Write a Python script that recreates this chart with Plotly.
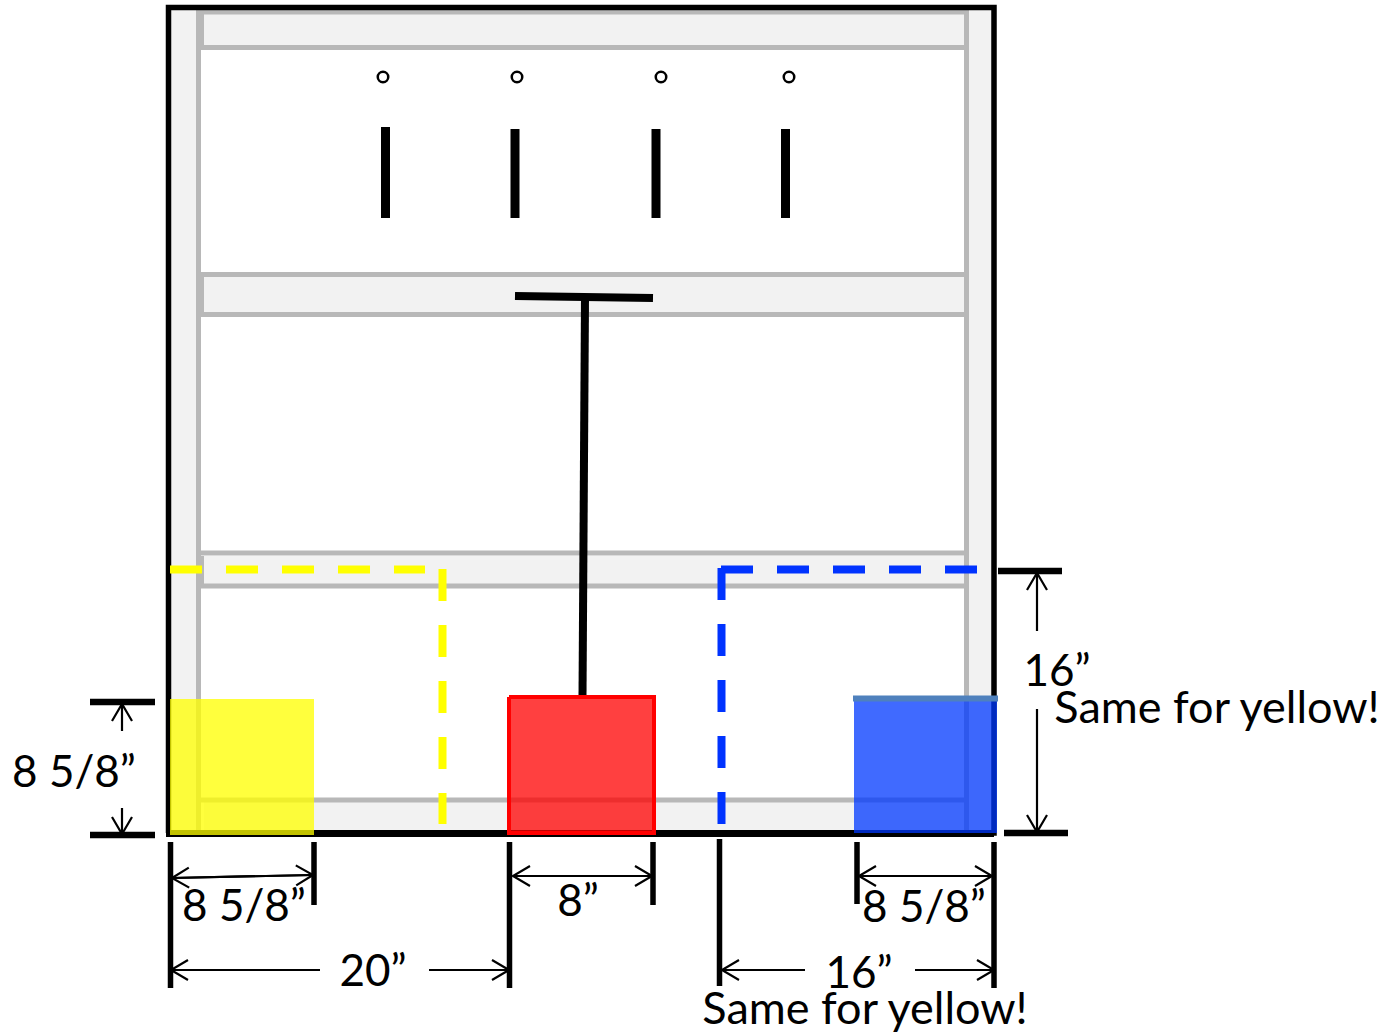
import plotly.graph_objects as go

W, H = 1387, 1035
BLACK = "#000000"
GRAY = "#b8b8b8"
PANEL = "#f2f2f2"

# --- panels (x0, y0, x1, y1) ---
panels = [(171, 10, 198, 833), (969, 10, 992, 833), (204, 14, 964, 45), (204, 277, 964, 312),
          (204, 556, 964, 584), (204, 802, 964, 832)]
# --- gray frame lines ---
gray_lines = [((198.5, 10), (198.5, 833)), ((966.5, 10), (966.5, 833)),
              ((200, 12), (966, 12)), ((200, 47.5), (966, 47.5)),
              ((200, 274.5), (966, 274.5)), ((200, 314.5), (966, 314.5)),
              ((200, 553), (966, 553)), ((200, 586), (966, 586)),
              ((200, 800), (966, 800))]
# --- gray shoulders beside the bands ---
shoulders = [((202.5, 14), (202.5, 45)), ((202.5, 277), (202.5, 312)), ((202.5, 556), (202.5, 584))]
# --- outer frame ---
frame_x = [168.5, 168.5, 994, 994, 168.5]
frame_y = [833, 7.5, 7.5, 833, 833]
base_x, base_y = [166, 994], [833.5, 833.5]
# --- slits and holes ---
slit_x = [385.5, 515, 656, 785.5]
slit_top = [127, 129, 129, 129]
slit_bottom = [218, 218, 218, 218]
hole_x = [383, 517, 661, 789]
hole_y = [77, 77, 77, 77]
# --- T handle ---
stem_x, stem_y = [585, 582.5], [298, 697]
bar_x, bar_y = [515, 653], [296, 298]
# --- dashed paths ---
yellow_dash = [((170, 569.5), (425, 569.5)), ((442.5, 569), (442.5, 824))]
blue_dash = [((721, 569.5), (977, 569.5)), ((721.5, 568), (721.5, 824))]
# --- boxes: x0, y0, x1, y1, colour ---
yellow_box = (170, 699, 314, 835, "rgba(255,255,0,0.76)")
red_box = (509, 697, 654, 833, "rgba(255,0,0,0.75)")
blue_box = (854, 700, 997, 833, "rgba(0,56,255,0.75)")
blue_top = ([853, 998], [698.5, 698.5])
# --- heavy dimension ticks ---
ticks_w6 = [((90, 702), (155, 702)), ((90, 835), (155, 835)), ((998, 571), (1062, 571)), ((1004, 833), (1068, 833))]
ticks_w5 = [((170.5, 842), (170.5, 988)), ((314, 842), (314, 905)), ((509.5, 842), (509.5, 988)),
            ((653, 842), (653, 905)), ((719.5, 839), (719.5, 986)), ((857, 842), (857, 904)),
            ((994, 842), (994, 988))]
# --- arrows (tail, tip) ---
arrows = [((122, 731), (122, 704)), ((122, 808), (122, 834)),
          ((313, 875), (172, 878)), ((172, 878), (313, 875)),
          ((320, 970), (171, 970)), ((429, 970), (509, 970)),
          ((652, 876), (513, 876)), ((513, 876), (652, 876)),
          ((992, 876), (859, 876)), ((859, 876), (992, 876)),
          ((805, 970), (722, 970)), ((915, 970), (994, 970)),
          ((1037, 631), (1037, 573)), ((1037, 709), (1037, 832))]
# --- labels ---
label_text = ["8 5/8”", "8 5/8”", "20”", "8”", "8 5/8”", "16”", "Same for yellow!", "16”", "Same for yellow!"]
label_x = [74, 244, 373, 578, 924, 859, 865, 1057, 1217]
label_y = [776, 910, 975, 905, 911, 977, 1013, 675, 712]
label_size = [44, 44, 44, 44, 44, 44, 45, 44, 45]

fig = go.Figure()


def add_line(xs, ys, color=BLACK, width=2, dash=None):
    fig.add_trace(go.Scatter(x=xs, y=ys, mode="lines",
                             line=dict(color=color, width=width, dash=dash),
                             hoverinfo="skip", showlegend=False))


def add_rect(x0, y0, x1, y1, fill, line=None, lw=0):
    fig.add_trace(go.Scatter(x=[x0, x1, x1, x0, x0], y=[y0, y0, y1, y1, y0], mode="lines",
                             fill="toself", fillcolor=fill,
                             line=dict(color=line or "rgba(0,0,0,0)", width=lw),
                             hoverinfo="skip", showlegend=False))


for x0, y0, x1, y1 in panels:
    add_rect(x0, y0, x1, y1, PANEL)
for (a, b) in gray_lines:
    add_line([a[0], b[0]], [a[1], b[1]], GRAY, 5)
for (a, b) in shoulders:
    add_line([a[0], b[0]], [a[1], b[1]], GRAY, 3)
add_line(frame_x, frame_y, BLACK, 5.5)
add_line(base_x, base_y, BLACK, 7)

for x, t, b in zip(slit_x, slit_top, slit_bottom):
    add_line([x, x], [t, b], BLACK, 9)
fig.add_trace(go.Scatter(x=hole_x, y=hole_y, mode="markers",
                         marker=dict(symbol="circle", size=10.5, color="white", line=dict(color=BLACK, width=2.5)),
                         hoverinfo="skip", showlegend=False))

add_line(stem_x, stem_y, BLACK, 8)
add_line(bar_x, bar_y, BLACK, 8)

for (a, b) in yellow_dash:
    add_line([a[0], b[0]], [a[1], b[1]], "#ffff00", 8, "32px,24px")
for (a, b) in blue_dash:
    add_line([a[0], b[0]], [a[1], b[1]], "#0033ff", 8, "32px,24px")

add_rect(*yellow_box[:4], yellow_box[4])
add_rect(*red_box[:4], red_box[4], "#ff0000", 4)
add_rect(*blue_box[:4], blue_box[4])
add_line(blue_top[0], blue_top[1], "#4f81bd", 6)

for (a, b) in ticks_w6:
    add_line([a[0], b[0]], [a[1], b[1]], BLACK, 6.5)
for (a, b) in ticks_w5:
    add_line([a[0], b[0]], [a[1], b[1]], BLACK, 5.5)

for (tail, tip) in arrows:
    add_line([tail[0], tip[0]], [tail[1], tip[1]], BLACK, 2.2)
    dx, dy = tip[0] - tail[0], tip[1] - tail[1]
    n = (dx * dx + dy * dy) ** 0.5
    ux, uy = dx / n, dy / n
    L, S = 17, 10
    add_line([tip[0] - ux * L - uy * S, tip[0], tip[0] - ux * L + uy * S],
             [tip[1] - uy * L + ux * S, tip[1], tip[1] - uy * L - ux * S], BLACK, 2.2)

fig.add_trace(go.Scatter(x=label_x, y=label_y, mode="text", text=label_text, textposition="middle center",
                         textfont=dict(family="Lato, Open Sans, sans-serif", size=label_size, color=BLACK),
                         hoverinfo="skip", showlegend=False, cliponaxis=False))

fig.update_layout(width=W, height=H, margin=dict(l=0, r=0, t=0, b=0),
                  paper_bgcolor="white", plot_bgcolor="white",
                  xaxis=dict(range=[0, W], visible=False, fixedrange=True),
                  yaxis=dict(range=[H, 0], visible=False, fixedrange=True))
fig.write_html("out.html", config={"displayModeBar": False},
               post_script="document.body.style.margin='0';document.body.style.overflow='hidden';")
